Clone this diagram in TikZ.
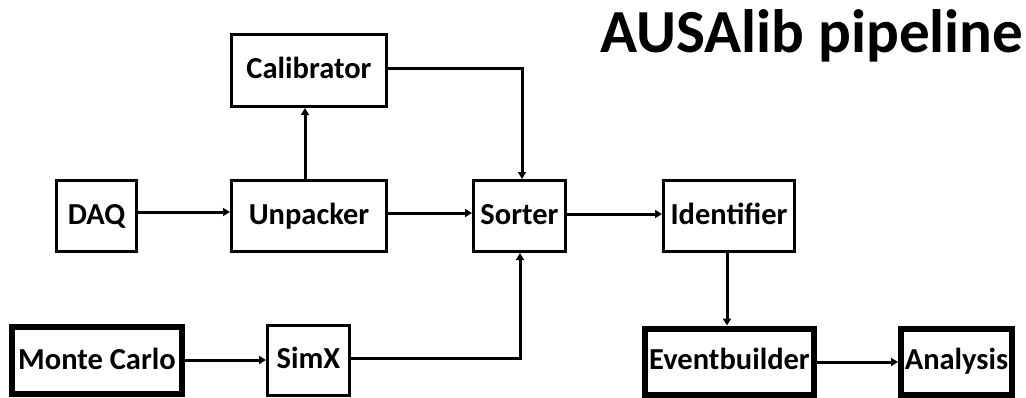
\documentclass[tikz,border=0pt]{standalone}
\usepackage{fontspec}
\setmainfont{Carlito}
\usetikzlibrary{arrows.meta}
\begin{document}
\begin{tikzpicture}[x=1pt,y=-1pt,
  box/.style={draw=black,line width=3pt,inner sep=0pt,
    font=\bfseries\fontsize{30.5}{31}\selectfont,
    text height=19.5pt,text depth=3pt,align=center},
  thickbox/.style={box,line width=6pt},
  arr/.style={line width=3pt,-{Triangle[length=7pt,width=8pt]}},
  conn/.style={line width=3pt}]
\useasboundingbox (0,0) rectangle (1026,397);
\node[box,minimum width=80pt,minimum height=71pt] (daq) at (96.5,216) {DAQ};
\node[box,minimum width=155pt,minimum height=71pt] (unp) at (309,216) {Unpacker};
\node[box,minimum width=155pt,minimum height=72pt] (cal) at (309,70.5) {Calibrator};
\node[box,minimum width=92pt,minimum height=71pt] (sort) at (519.5,216) {Sorter};
\node[box,minimum width=131pt,minimum height=71pt] (ident) at (729,216) {Identifier};
\node[thickbox,minimum width=170pt,minimum height=67pt] (mc) at (97,360.75) {Monte Carlo};
\node[box,minimum width=82pt,minimum height=70pt] (simx) at (308.5,360.5) {SimX};
\node[thickbox,minimum width=169pt,minimum height=66pt] (evb) at (729.5,361.5) {Eventbuilder};
\node[thickbox,minimum width=111pt,minimum height=66pt] (ana) at (956.5,361.5) {Analysis};
\node[anchor=base west,inner sep=0pt,font=\bfseries\fontsize{61.2}{62}\selectfont] (title) at (600,52) {AUSAlib pipeline};
% connectors
\draw[arr] (daq.east |- 0,212) -- (unp.west |- 0,212);
\draw[arr] (unp.east |- 0,213) -- (sort.west |- 0,213);
\draw[arr] (sort.east |- 0,214) -- (ident.west |- 0,214);
\draw[arr] (unp.north -| 305,0) -- (cal.south -| 305,0);
\coordinate (c1) at (522,68);
\draw[arr] (cal.east |- c1) -- (c1) -- (sort.north -| c1);
\coordinate (c2) at (520,358);
\draw[arr] (simx.east |- c2) -- (c2) -- (sort.south -| c2);
\draw[arr] (mc.east |- 0,360) -- (simx.west |- 0,360);
\draw[arr] (ident.south -| 727,0) -- (evb.north -| 727,0);
\draw[arr] (evb.east |- 0,362) -- (ana.west |- 0,362);
\end{tikzpicture}
\end{document}
